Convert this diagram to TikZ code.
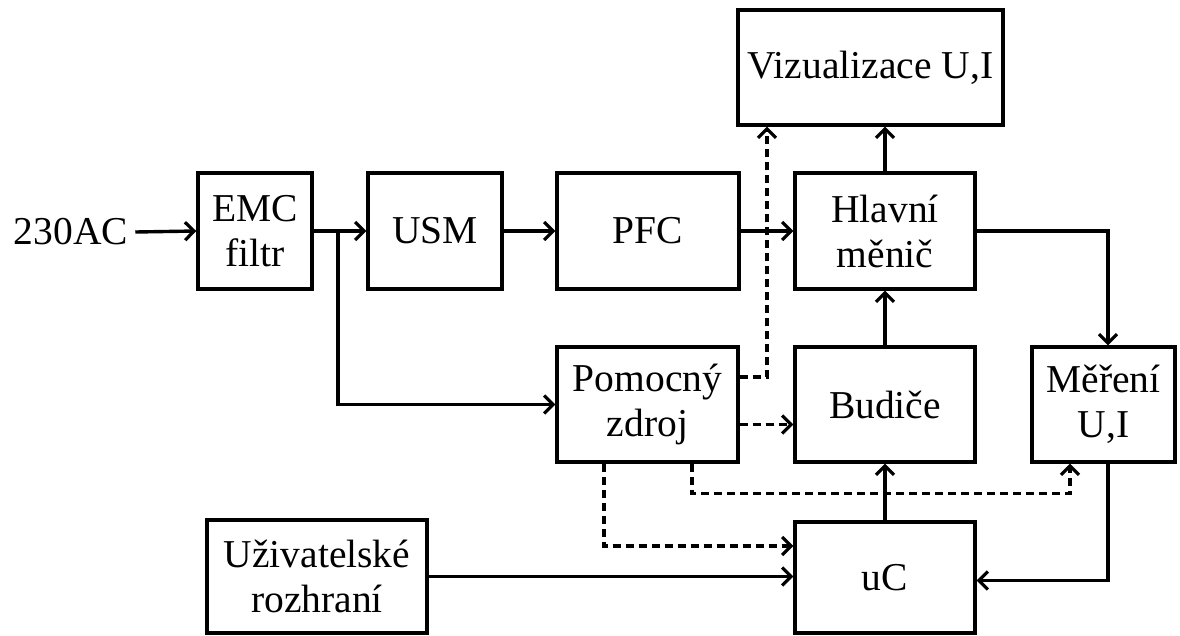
\documentclass[tikz,border=0pt]{standalone}
\usepackage{fontspec}
\setmainfont{Liberation Serif}
\usetikzlibrary{arrows.meta}
\begin{document}
\begin{tikzpicture}[x=1pt,y=-1pt,
  box/.style={draw,line width=3.4pt,align=center,inner sep=0pt,
    font=\fontsize{39.5}{45}\selectfont},
  conn/.style={line width=3.4pt,-{Straight Barb[length=9pt,width=18pt,line width=3.2pt]}},
  dconn/.style={conn,dash pattern=on 8pt off 5pt}]
\useasboundingbox (0,0) rectangle (1180,635);
\node[box,minimum width=114,minimum height=116] (emc) at (255,231) {EMC\\filtr};
\node[box,minimum width=134,minimum height=116] (usm) at (435,231) {USM};
\node[box,minimum width=182,minimum height=116] (pfc) at (648,231) {PFC};
\node[box,minimum width=180,minimum height=116] (hl) at (885,231) {Hlavní\\měnič};
\node[box,minimum width=265,minimum height=115] (viz) at (870.5,67.5) {Vizualizace U,I};
\node[box,minimum width=181,minimum height=115] (pom) at (647.5,404.5) {Pomocný\\zdroj};
\node[box,minimum width=180,minimum height=115] (bud) at (885,404.5) {Budiče};
\node[box,minimum width=143,minimum height=115] (mer) at (1103.5,404.5) {Měření\\U,I};
\node[box,minimum width=180,minimum height=111] (uc) at (885,577.5) {uC};
\node[box,minimum width=220,minimum height=113] (uz) at (317,576.5) {Uživatelské\\rozhraní};
\node[font=\fontsize{39.5}{45}\selectfont,inner sep=7pt] (ac) at (71,232) {230AC};
\coordinate (br) at (338,231);
% solid connectors
\draw[conn] (ac.east) -- (emc.west);
\draw[conn] (emc.east) -- (usm.west);
\draw[conn] (br) |- (pom.west);
\draw[conn] (usm) -- (pfc);
\draw[conn] (pfc) -- (hl);
\draw[conn] (hl.north) -- (hl.north |- viz.south);
\draw[conn] (bud) -- (hl);
\draw[conn] (uc) -- (bud);
\draw[conn] (hl.east) -| ([xshift=4.5]mer.north);
\draw[conn] ([xshift=4.5]mer.south) |- ([yshift=-3]uc.east);
\draw[conn] (uz.east) -- (uz.east -| uc.west);
% dashed connectors
\draw[dconn] ([yshift=27.5]pom.east) -| ([xshift=-103.5]viz.south);
\draw[dconn] ([yshift=-20]pom.east) -- ([yshift=-20]bud.west);
\draw[dconn] ([xshift=-43.5]pom.south) |- ([yshift=31.5]uc.west);
\draw[dconn] ([xshift=44.5]pom.south) -- ++(0,30) -| ([xshift=-33.5]mer.south);
\end{tikzpicture}
\end{document}
